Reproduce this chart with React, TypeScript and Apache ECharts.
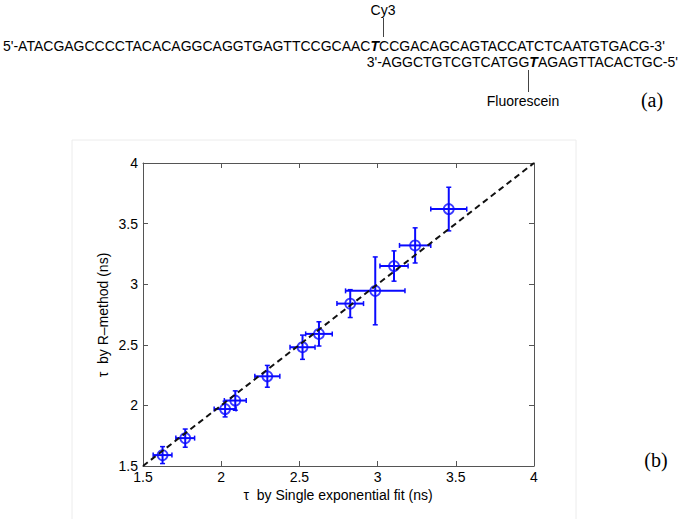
import React, { useEffect, useRef } from "react";
import * as echarts from "echarts";

// τ by single exponential fit (ns)
const xVals = [1.625, 1.77, 2.025, 2.09, 2.295, 2.52, 2.625, 2.825, 2.985, 3.105, 3.24, 3.455];
// τ by R-method (ns)
const yVals = [1.59, 1.73, 1.97, 2.04, 2.24, 2.48, 2.59, 2.84, 2.945, 3.15, 3.32, 3.62];
const xErr = [0.06, 0.06, 0.07, 0.07, 0.08, 0.08, 0.085, 0.085, 0.19, 0.09, 0.1, 0.115];
const yErr = [0.07, 0.075, 0.065, 0.08, 0.09, 0.1, 0.1, 0.115, 0.28, 0.125, 0.145, 0.18];
const identityLine = [
  [1.5, 1.5],
  [4, 4],
];
const axisMin = 1.5;
const axisMax = 4;
const axisStep = 0.5;

const seq5Left = "5'-ATACGAGCCCCTACACAGGCAGGTGAGTTCCGCAAC";
const seq5Mark = "T";
const seq5Right = "CCGACAGCAGTACCATCTCAATGTGACG-3'";
const seq3Left = "3'-AGGCTGTCGTCATGG";
const seq3Mark = "T";
const seq3Right = "AGAGTTACACTGC-5'";

const BLUE = "#0a0aff";
const SANS = "'Liberation Sans', Arial, Helvetica, sans-serif";
const SERIF = "'Liberation Serif', 'Times New Roman', serif";

export default function App() {
  const ref = useRef<HTMLDivElement>(null);

  useEffect(() => {
    document.body.style.margin = "0";
    if (!ref.current) return;
    const chart = echarts.init(ref.current, undefined, { renderer: "svg" });

    const pts = xVals.map((x, i) => [x, yVals[i], xErr[i], yErr[i]]);
    const seqRich = {
      n: { fontSize: 14, fontFamily: SANS, color: "#000" },
      b: { fontSize: 14, fontFamily: SANS, color: "#000", fontWeight: "bold", fontStyle: "italic" },
    };

    const axisCommon = {
      type: "value",
      min: axisMin,
      max: axisMax,
      interval: axisStep,
      splitLine: { show: false },
      axisLine: { show: true, lineStyle: { color: "#555", width: 1 } },
      axisTick: { show: true, inside: true, length: 5, lineStyle: { color: "#555" } },
    };

    chart.setOption({
      animation: false,
      backgroundColor: "#fff",
      grid: { left: 143, top: 163, width: 391, height: 303, containLabel: false },
      xAxis: [
        {
          ...axisCommon,
          position: "bottom",
          axisLabel: { color: "#000", fontSize: 14, fontFamily: SANS, margin: 4 },
        },
        { ...axisCommon, position: "top", axisLabel: { show: false } },
      ],
      yAxis: [
        {
          ...axisCommon,
          position: "left",
          axisLabel: { color: "#000", fontSize: 14, fontFamily: SANS, margin: 5 },
        },
        { ...axisCommon, position: "right", axisLabel: { show: false } },
      ],
      series: [
        {
          type: "custom",
          xAxisIndex: 0,
          yAxisIndex: 0,
          data: pts,
          z: 2,
          renderItem: (params: any, api: any) => {
            const x = api.value(0);
            const y = api.value(1);
            const ex = api.value(2);
            const ey = api.value(3);
            const l = api.coord([x - ex, y]);
            const r = api.coord([x + ex, y]);
            const t = api.coord([x, y + ey]);
            const b = api.coord([x, y - ey]);
            const cap = 2.5;
            const st = { stroke: BLUE, lineWidth: 2 };
            const st2 = { stroke: BLUE, lineWidth: 1.5 };
            return {
              type: "group",
              children: [
                { type: "line", shape: { x1: l[0], y1: l[1], x2: r[0], y2: r[1] }, style: st },
                { type: "line", shape: { x1: t[0], y1: t[1], x2: b[0], y2: b[1] }, style: st },
                { type: "line", shape: { x1: l[0], y1: l[1] - cap, x2: l[0], y2: l[1] + cap }, style: st2 },
                { type: "line", shape: { x1: r[0], y1: r[1] - cap, x2: r[0], y2: r[1] + cap }, style: st2 },
                { type: "line", shape: { x1: t[0] - cap, y1: t[1], x2: t[0] + cap, y2: t[1] }, style: st2 },
                { type: "line", shape: { x1: b[0] - cap, y1: b[1], x2: b[0] + cap, y2: b[1] }, style: st2 },
              ],
            };
          },
        },
        {
          type: "scatter",
          data: pts.map((p) => [p[0], p[1]]),
          symbol: "circle",
          symbolSize: 10,
          itemStyle: { color: "rgba(0,0,0,0)", borderColor: BLUE, borderWidth: 1.8 },
          z: 3,
        },
        {
          type: "line",
          data: identityLine,
          symbol: "none",
          lineStyle: { color: "#111", width: 2, type: [6, 4] },
          z: 4,
        },
      ],
      graphic: [
        {
          type: "rect",
          shape: { x: 72, y: 140, width: 504, height: 400 },
          style: { fill: "none", stroke: "#ececec", lineWidth: 1 },
          z: -1,
        },
        {
          type: "text",
          x: 383,
          y: 10,
          style: { text: "Cy3", fontSize: 14, fontFamily: SANS, fill: "#000", align: "center", verticalAlign: "middle" },
        },
        {
          type: "line",
          shape: { x1: 383.5, y1: 18, x2: 383.5, y2: 37 },
          style: { stroke: "#444", lineWidth: 1 },
        },
        {
          type: "text",
          x: 3,
          y: 46,
          style: {
            text: `{n|${seq5Left}}{b|${seq5Mark}}{n|${seq5Right}}`,
            rich: seqRich,
            align: "left",
            verticalAlign: "middle",
          },
        },
        {
          type: "text",
          x: 678,
          y: 62,
          style: {
            text: `{n|${seq3Left}}{b|${seq3Mark}}{n|${seq3Right}}`,
            rich: seqRich,
            align: "right",
            verticalAlign: "middle",
          },
        },
        {
          type: "line",
          shape: { x1: 528.5, y1: 70, x2: 528.5, y2: 92 },
          style: { stroke: "#444", lineWidth: 1 },
        },
        {
          type: "text",
          x: 523,
          y: 101,
          style: { text: "Fluorescein", fontSize: 14, fontFamily: SANS, fill: "#000", align: "center", verticalAlign: "middle" },
        },
        {
          type: "text",
          x: 652,
          y: 100,
          style: { text: "(a)", fontSize: 20, fontFamily: SERIF, fill: "#000", align: "center", verticalAlign: "middle" },
        },
        {
          type: "text",
          x: 656,
          y: 460,
          style: { text: "(b)", fontSize: 20, fontFamily: SERIF, fill: "#000", align: "center", verticalAlign: "middle" },
        },
        {
          type: "text",
          x: 338,
          y: 495,
          style: {
            text: "τ  by Single exponential fit (ns)",
            fontSize: 14,
            fontFamily: SANS,
            fill: "#000",
            align: "center",
            verticalAlign: "middle",
          },
        },
        {
          type: "text",
          x: 103,
          y: 315,
          rotation: Math.PI / 2,
          style: {
            text: "τ  by R–method (ns)",
            fontSize: 14,
            fontFamily: SANS,
            fill: "#000",
            align: "center",
            verticalAlign: "middle",
          },
        },
      ],
    });

    return () => chart.dispose();
  }, []);

  return <div ref={ref} style={{ width: 683, height: 519 }} />;
}
